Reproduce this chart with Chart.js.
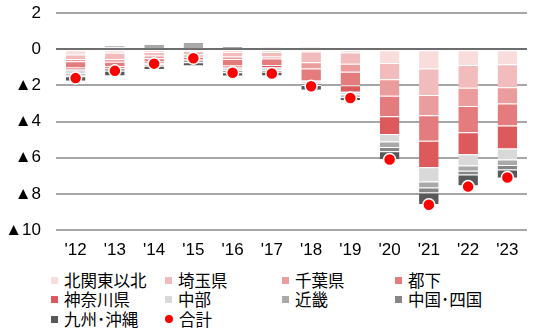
<!DOCTYPE html>
<html lang="ja">
<head>
<meta charset="UTF-8">
<title>地域別</title>
<script src="https://cdn.jsdelivr.net/npm/chart.js"></script>
<style>
    body {
        margin: 0;
        padding: 0;
        background: #fff;
    }
    .chart-box {
        position: relative;
        width: 536px;
        height: 262px;
    }
    .legend {
        position: relative;
        width: 536px;
        height: 69px;
    }
    .item {
        position: absolute;
        display: flex;
        align-items: center;
        height: 18px;
        font-family: 'Noto Sans CJK JP', sans-serif;
        font-size: 16.5px;
        line-height: 1;
        color: #000;
        white-space: nowrap;
    }
    .item i {
        display: inline-block;
        width: 7px;
        height: 7px;
        margin-right: 6px;
    }
    .item i.dot {
        border-radius: 50%;
        width: 8px;
        height: 8px;
    }
</style>
</head>
<body>
<div class="chart-box"><canvas id="chart"></canvas></div>
<div class="legend" id="legend"></div>
<script>
    const years = ["'12", "'13", "'14", "'15", "'16", "'17", "'18", "'19", "'20", "'21", "'22", "'23"];

    const kitaKanto = [-0.3, -0.2, -0.15, -0.1, -0.15, -0.15, -0.13, -0.18, -0.77, -1.07, -0.88, -0.83];
    const saitama   = [-0.25, -0.35, -0.2, -0.2, -0.25, -0.25, -0.59, -0.63, -0.9, -1.47, -1.25, -1.27];
    const chiba     = [-0.12, -0.15, -0.15, -0.12, -0.15, -0.12, -0.35, -0.44, -0.9, -1.12, -1.01, -0.9];
    const tokaShita = [-0.35, -0.25, -0.15, -0.15, -0.35, -0.35, -0.64, -0.74, -1.14, -1.4, -1.45, -1.22];
    const kanagawa  = [-0.1, -0.1, -0.1, -0.05, -0.12, -0.15, -0.07, -0.37, -0.98, -1.47, -1.22, -1.27];
    const chubu     = [-0.22, 0.1, -0.1, 0.05, -0.15, -0.15, -0.09, -0.13, -0.41, -0.79, -0.63, -0.61];
    const kinki     = [-0.1, 0.12, 0.28, 0.35, 0.18, 0.09, 0.09, -0.09, -0.31, -0.33, -0.29, -0.31];
    const chugoku   = [-0.06, -0.15, -0.07, -0.1, -0.1, -0.08, -0.11, -0.07, -0.24, -0.28, -0.2, -0.24];
    const kyushu    = [-0.25, -0.25, -0.17, -0.18, -0.2, -0.2, -0.26, -0.18, -0.44, -0.63, -0.61, -0.46];
    const total     = [-1.6, -1.2, -0.8, -0.5, -1.3, -1.35, -2.05, -2.7, -6.1, -8.6, -7.6, -7.1];

    const yMin = -10;
    const yMax = 2;
    const yStep = 2;

    const series = [
        { label: "北関東以北", data: kitaKanto, color: "#f9dcdc" },
        { label: "埼玉県", data: saitama, color: "#f2bcbd" },
        { label: "千葉県", data: chiba, color: "#eb9c9d" },
        { label: "都下", data: tokaShita, color: "#e47b7c" },
        { label: "神奈川県", data: kanagawa, color: "#dc5a5c" },
        { label: "中部", data: chubu, color: "#d9d9d9" },
        { label: "近畿", data: kinki, color: "#a9a9a9" },
        { label: "中国･四国", data: chugoku, color: "#868686" },
        { label: "九州･沖縄", data: kyushu, color: "#595959" }
    ];

    Chart.defaults.color = "#000";

    // the dots go first in the list so Chart.js draws them last (on top of the bars)
    const datasets = [{
        type: "line",
        label: "合計",
        data: total,
        stack: "sum",
        showLine: false,
        pointRadius: 6,
        pointHoverRadius: 6,
        pointBackgroundColor: "#ff0000",
        pointBorderColor: "#ffffff",
        pointBorderWidth: 1.5
    }];

    series.forEach(s => datasets.push({
        type: "bar",
        label: s.label,
        data: s.data,
        backgroundColor: s.color,
        borderColor: "#ffffff",
        borderWidth: { top: 1, bottom: 0, left: 0, right: 0 },
        borderSkipped: false,
        stack: "area"
    }));

    // darker line at 0, drawn before the bars
    const zeroLine = {
        id: "zeroLine",
        beforeDatasetsDraw(chart) {
            const { ctx, chartArea, scales } = chart;
            const y = Math.round(scales.y.getPixelForValue(0));
            ctx.save();
            ctx.strokeStyle = "#6e6e6e";
            ctx.lineWidth = 2;
            ctx.beginPath();
            ctx.moveTo(chartArea.left, y);
            ctx.lineTo(chartArea.right, y);
            ctx.stroke();
            ctx.restore();
        }
    };

    new Chart(document.getElementById("chart"), {
        data: { labels: years, datasets: datasets },
        plugins: [zeroLine],
        options: {
            responsive: true,
            maintainAspectRatio: false,
            animation: false,
            layout: { padding: { top: 13, right: 9, bottom: 2, left: 0 } },
            plugins: {
                legend: { display: false },
                tooltip: { enabled: false }
            },
            datasets: {
                bar: { categoryPercentage: 1, barPercentage: 0.5 }
            },
            scales: {
                x: {
                    stacked: true,
                    afterFit: axis => { axis.height = 30; },
                    grid: { display: false, drawTicks: false },
                    border: { display: false },
                    ticks: {
                        padding: 10,
                        font: { family: "'Liberation Sans', Arial", size: 17 }
                    }
                },
                y: {
                    stacked: true,
                    min: yMin,
                    max: yMax,
                    afterFit: axis => {
                        axis.width = 56;
                        axis.paddingTop = 0;
                        axis.paddingBottom = 0;
                    },
                    grid: {
                        drawTicks: false,
                        color: "#a6a6a6",
                        lineWidth: 2
                    },
                    border: { display: false },
                    ticks: {
                        stepSize: yStep,
                        padding: 15,
                        font: { family: "'Liberation Sans', Arial", size: 17 },
                        callback: v => v < 0 ? "▲" + (-v) : String(v)
                    }
                }
            }
        }
    });

    // legend below the canvas, 4 columns like the original
    const legendItems = series.map(s => ({ label: s.label, color: s.color, dot: false }));
    legendItems.push({ label: "合計", color: "#ff0000", dot: true });
    const colX = [51, 165, 282, 395];
    const rowY = [18, 37.5, 57];
    const legend = document.getElementById("legend");
    legendItems.forEach((it, i) => {
        const el = document.createElement("div");
        el.className = "item";
        el.style.left = colX[i % 4] + "px";
        el.style.top = (rowY[Math.floor(i / 4)] - 9) + "px";
        el.innerHTML = `<i class="${it.dot ? "dot" : ""}" style="background:${it.color}"></i>${it.label}`;
        legend.appendChild(el);
    });
</script>
</body>
</html>
